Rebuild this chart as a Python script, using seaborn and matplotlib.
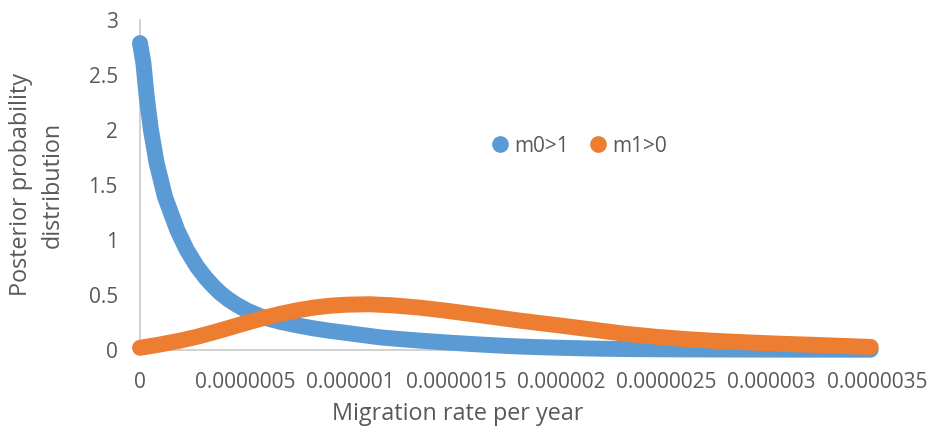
import matplotlib
matplotlib.use("Agg")
import matplotlib.pyplot as plt
from matplotlib.lines import Line2D
import pandas as pd
import seaborn as sns

# Posterior densities of the migration rate (x in units of 1e-6 per year)
m01_rate = [0.0, 0.016, 0.032, 0.052, 0.079, 0.119, 0.177, 0.222, 0.27, 0.31,
            0.348, 0.38, 0.42, 0.46, 0.507, 0.58, 0.665, 0.744, 0.823, 0.90,
            0.981, 1.06, 1.14, 1.23, 1.33, 1.45, 1.57, 1.68, 1.80, 1.92,
            2.04, 2.18, 2.33, 2.6, 2.9, 3.2, 3.47]
m01_density = [2.79, 2.61, 2.30, 2.00, 1.70, 1.39, 1.09, 0.91, 0.76, 0.66,
               0.58, 0.52, 0.46, 0.41, 0.36, 0.30, 0.257, 0.225, 0.197, 0.175,
               0.155, 0.135, 0.115, 0.10, 0.085, 0.069, 0.055, 0.043, 0.032, 0.024,
               0.018, 0.012, 0.008, 0.005, 0.004, 0.003, 0.003]

m10_rate = [0.0, 0.095, 0.19, 0.27, 0.348, 0.43, 0.507, 0.585, 0.665, 0.745,
            0.823, 0.90, 0.981, 1.09, 1.2, 1.33, 1.45, 1.57, 1.69, 1.80,
            1.92, 2.04, 2.17, 2.30, 2.45, 2.60, 2.75, 2.91, 3.07, 3.23,
            3.35, 3.47]
m10_density = [0.02, 0.05, 0.085, 0.12, 0.16, 0.205, 0.248, 0.29, 0.328, 0.36,
               0.385, 0.402, 0.412, 0.416, 0.406, 0.385, 0.358, 0.328, 0.297, 0.268,
               0.240, 0.212, 0.18, 0.148, 0.12, 0.098, 0.081, 0.067, 0.055, 0.045,
               0.036, 0.028]

series_names = ["m0>1", "m1>0"]
series_colors = ["#5B9BD5", "#ED7D31"]

x_ticks = [0, 0.5, 1.0, 1.5, 2.0, 2.5, 3.0, 3.5]
x_tick_labels = ["0", "0.0000005", "0.000001", "0.0000015", "0.000002",
                 "0.0000025", "0.000003", "0.0000035"]
y_ticks = [0, 0.5, 1, 1.5, 2, 2.5, 3]
y_tick_labels = ["0", "0.5", "1", "1.5", "2", "2.5", "3"]

sns.set_theme(style="white")
plt.rcParams["font.family"] = ["Open Sans", "DejaVu Sans"]
text_color = "#595959"
axis_color = "#C9C9C9"

df_a = pd.DataFrame({"rate": m01_rate, "density": m01_density})
df_b = pd.DataFrame({"rate": m10_rate, "density": m10_density})

fig = plt.figure(figsize=(9.3, 4.34), dpi=100)
ax = fig.add_axes([140 / 930, 1 - 350 / 434, 737 / 930, 330 / 434])

for df, col in zip([df_a, df_b], series_colors):
    sns.lineplot(data=df, x="rate", y="density", ax=ax, color=col,
                 linewidth=11.5, sort=False, estimator=None,
                 solid_capstyle="round", solid_joinstyle="round")
for ln in ax.get_lines():
    ln.set_solid_capstyle("round")
    ln.set_solid_joinstyle("round")
    ln.set_clip_on(False)

ax.set_xlim(0, 3.5)
ax.set_ylim(0, 3)
ax.set_xticks(x_ticks)
ax.set_xticklabels(x_tick_labels)
ax.set_yticks(y_ticks)
ax.set_yticklabels(y_tick_labels)
ax.tick_params(axis="both", length=0, labelsize=15, colors=text_color)
ax.tick_params(axis="x", pad=16)
ax.tick_params(axis="y", pad=16)

for side in ["top", "right"]:
    ax.spines[side].set_visible(False)
for side in ["left", "bottom"]:
    ax.spines[side].set_color(axis_color)
    ax.spines[side].set_linewidth(1.2)
    ax.spines[side].set_zorder(0)

ax.set_xlabel("Migration rate per year", fontsize=16.8, color=text_color)
ax.xaxis.set_label_coords((458 - 140) / 737, (350 - 414) / 330)
ax.xaxis.label.set_va("center")
ax.set_ylabel("Posterior probability\ndistribution", fontsize=16.8,
              color=text_color, linespacing=1.45, va="center", ha="center")
ax.yaxis.set_label_coords((37 - 140) / 737, 0.5)

handles = [Line2D([], [], linestyle="none", marker="o", markersize=11,
                  markerfacecolor=c, markeredgecolor=c) for c in series_colors]
leg = ax.legend(handles, series_names, loc="center", ncol=2, frameon=False,
                bbox_to_anchor=(580 / 930, 1 - 146 / 434),
                bbox_transform=fig.transFigure, fontsize=15,
                handlelength=0.7, handletextpad=0.32, columnspacing=1.04,
                borderpad=0, borderaxespad=0)
for t in leg.get_texts():
    t.set_color(text_color)

fig.savefig("out.png", dpi=100, facecolor="white")
